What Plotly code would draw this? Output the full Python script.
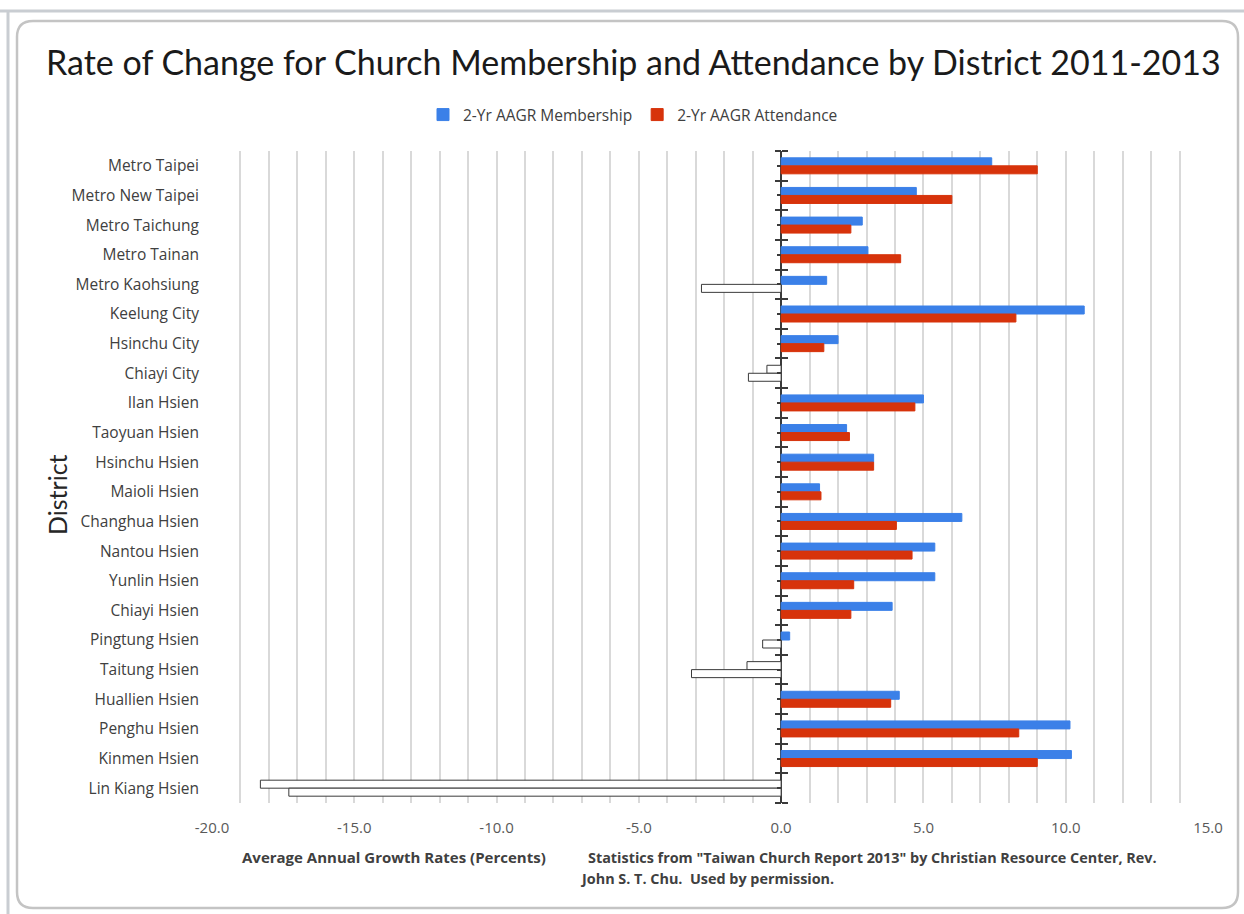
import plotly.graph_objects as go

# Districts listed top to bottom
districts = [
    "Metro Taipei", "Metro New Taipei", "Metro Taichung", "Metro Tainan",
    "Metro Kaohsiung", "Keelung City", "Hsinchu City", "Chiayi City",
    "Ilan Hsien", "Taoyuan Hsien", "Hsinchu Hsien", "Maioli Hsien",
    "Changhua Hsien", "Nantou Hsien", "Yunlin Hsien", "Chiayi Hsien",
    "Pingtung Hsien", "Taitung Hsien", "Huallien Hsien", "Penghu Hsien",
    "Kinmen Hsien", "Lin Kiang Hsien",
]

# 2-year average annual growth rates (percent)
membership = [7.4, 4.75, 2.85, 3.05, 1.6, 10.65, 2.0, -0.5, 5.0, 2.3, 3.25,
              1.35, 6.35, 5.4, 5.4, 3.9, 0.3, -1.2, 4.15, 10.15, 10.2, -18.3]
attendance = [9.0, 6.0, 2.45, 4.2, -2.8, 8.25, 1.5, -1.15, 4.7, 2.4, 3.25,
              1.4, 4.05, 4.6, 2.55, 2.45, -0.65, -3.15, 3.85, 8.35, 9.0, -17.3]

x_ticks = [-20, -15, -10, -5, 0, 5, 10, 15]
x_tick_text = [f"{v:.1f}" for v in x_ticks]

BLUE = "#3b80e8"
RED = "#d7330b"
OUTLINE = "#3a3a3a"
TITLE_FONT = "Lato"
BODY_FONT = "Open Sans"

W, H = 1244, 914
X_MIN, X_MAX = -20, 15
DOM_X = [212 / W, 1208 / W]
DOM_Y = [1 - 803 / H, 1 - 151 / H]


def fills(values, color):
    # negative values are drawn inverted: white fill with a dark outline
    return [color if v >= 0 else "white" for v in values]


def outlines(values, color):
    return [color if v >= 0 else OUTLINE for v in values]


fig = go.Figure()
fig.add_trace(go.Bar(
    name="2-Yr AAGR Membership", y=districts, x=membership, orientation="h",
    marker=dict(color=fills(membership, BLUE),
                line=dict(color=outlines(membership, BLUE), width=1)),
))
fig.add_trace(go.Bar(
    name="2-Yr AAGR Attendance", y=districts, x=attendance, orientation="h",
    marker=dict(color=fills(attendance, RED),
                line=dict(color=outlines(attendance, RED), width=1)),
))
# empty traces so the tick-mark axes on the zero line get drawn
for ax in ("y2", "y3"):
    fig.add_trace(go.Scatter(x=[], y=[], yaxis=ax, mode="markers",
                             showlegend=False, hoverinfo="skip"))

n = len(districts)
zero_pos = DOM_X[0] + (0 - X_MIN) / (X_MAX - X_MIN) * (DOM_X[1] - DOM_X[0])
boundaries = [i - 0.5 for i in range(n + 1)]
centers = list(range(n))

tick_axis = dict(
    overlaying="y", anchor="free", position=zero_pos, automargin=False,
    domain=DOM_Y, range=[n - 0.5, -0.5], tickvals=boundaries,
    showticklabels=False, ticks="outside", ticklen=6, tickwidth=2,
    tickcolor=OUTLINE, showgrid=False, zeroline=False, showline=False,
)

fig.update_layout(
    width=W, height=H,
    margin=dict(l=0, r=0, t=0, b=0, autoexpand=False),
    paper_bgcolor="white", plot_bgcolor="white",
    font=dict(family=BODY_FONT, color="#404040"),
    barmode="group", bargap=0.46, bargroupgap=0,
    showlegend=True,
    legend=dict(orientation="h", x=633 / W, xanchor="center", y=1 - 115 / H,
                yanchor="middle", font=dict(size=15.5, color="#404040"),
                itemwidth=30, bgcolor="rgba(0,0,0,0)"),
    xaxis=dict(
        domain=DOM_X, range=[X_MIN, X_MAX], automargin=False,
        tickvals=x_ticks, ticktext=x_tick_text,
        showgrid=True, gridcolor="#d9d9d9", gridwidth=1.5,
        minor=dict(dtick=1, showgrid=True, gridcolor="#d9d9d9", gridwidth=1.5),
        zeroline=True, zerolinecolor=OUTLINE, zerolinewidth=1.5,
        showline=False, ticks="", tickfont=dict(size=15, color="#595959"),
        ticklabelstandoff=14,
    ),
    yaxis=dict(
        domain=DOM_Y, type="category", categoryorder="array", automargin=False,
        categoryarray=districts, range=[n - 0.5, -0.5],
        showgrid=False, zeroline=False, showline=False, ticks="",
        tickfont=dict(size=15.5, color="#404040"), ticklabelstandoff=12,
    ),
    # tick marks crossing the zero line at category boundaries,
    # with short marks at the category centres on the left side
    yaxis2=dict(side="left",
                minor=dict(tickmode="array", tickvals=centers, ticks="outside",
                           ticklen=4, tickwidth=1.5, tickcolor=OUTLINE),
                **tick_axis),
    yaxis3=dict(side="right", **tick_axis),
)

# page frame
fig.add_shape(type="line", xref="paper", yref="paper",
              x0=0, x1=1, y0=1 - 11 / H, y1=1 - 11 / H,
              line=dict(color="#c9cdd2", width=3), layer="below")
fig.add_shape(type="line", xref="paper", yref="paper",
              x0=8 / W, x1=8 / W, y0=0, y1=1 - 11 / H,
              line=dict(color="#c9cdd2", width=3), layer="below")


# rounded chart border, in paper coordinates
def rounded_rect(x0, y0, x1, y1, r):
    segs = [
        ("M", [(x0 + r, y0)]), ("L", [(x1 - r, y0)]), ("Q", [(x1, y0), (x1, y0 + r)]),
        ("L", [(x1, y1 - r)]), ("Q", [(x1, y1), (x1 - r, y1)]), ("L", [(x0 + r, y1)]),
        ("Q", [(x0, y1), (x0, y1 - r)]), ("L", [(x0, y0 + r)]), ("Q", [(x0, y0), (x0 + r, y0)]),
    ]
    parts = []
    for cmd, coords in segs:
        parts.append(cmd + " " + " ".join(f"{cx / W:.5f},{1 - cy / H:.5f}" for cx, cy in coords))
    return " ".join(parts) + " Z"


fig.add_shape(type="path", xref="paper", yref="paper",
              path=rounded_rect(17, 21, 1238, 908, 16),
              line=dict(color="#c4c4c4", width=2.5), fillcolor="rgba(0,0,0,0)",
              layer="below")

# title
fig.add_annotation(
    text="Rate of Change for Church Membership and Attendance by District 2011-2013",
    xref="paper", yref="paper", x=633 / W, y=1 - 62 / H, xanchor="center",
    yanchor="middle", showarrow=False,
    font=dict(size=34, color="#1a1a1a", family=TITLE_FONT),
)

# axis title
fig.add_annotation(
    text="District", xref="paper", yref="paper", x=57 / W, y=1 - 495 / H,
    textangle=-90, showarrow=False, xanchor="center", yanchor="middle",
    font=dict(size=25, color="#262626", family=TITLE_FONT),
)

# footnotes
fig.add_annotation(
    text="<b>Average Annual Growth Rates (Percents)</b>",
    xref="paper", yref="paper", x=240 / W, y=1 - 857 / H, xanchor="left",
    yanchor="middle", showarrow=False, font=dict(size=15, color="#404040"),
)
fig.add_annotation(
    text="<b>Statistics from \"Taiwan Church Report 2013\" by Christian Resource Center, Rev.</b>",
    xref="paper", yref="paper", x=586 / W, y=1 - 857 / H, xanchor="left",
    yanchor="middle", showarrow=False, font=dict(size=14.4, color="#404040"),
)
fig.add_annotation(
    text="<b>John S. T. Chu.  Used by permission.</b>",
    xref="paper", yref="paper", x=578 / W, y=1 - 878 / H, xanchor="left",
    yanchor="middle", showarrow=False, font=dict(size=14.4, color="#404040"),
)

fig.write_html("out.html")
